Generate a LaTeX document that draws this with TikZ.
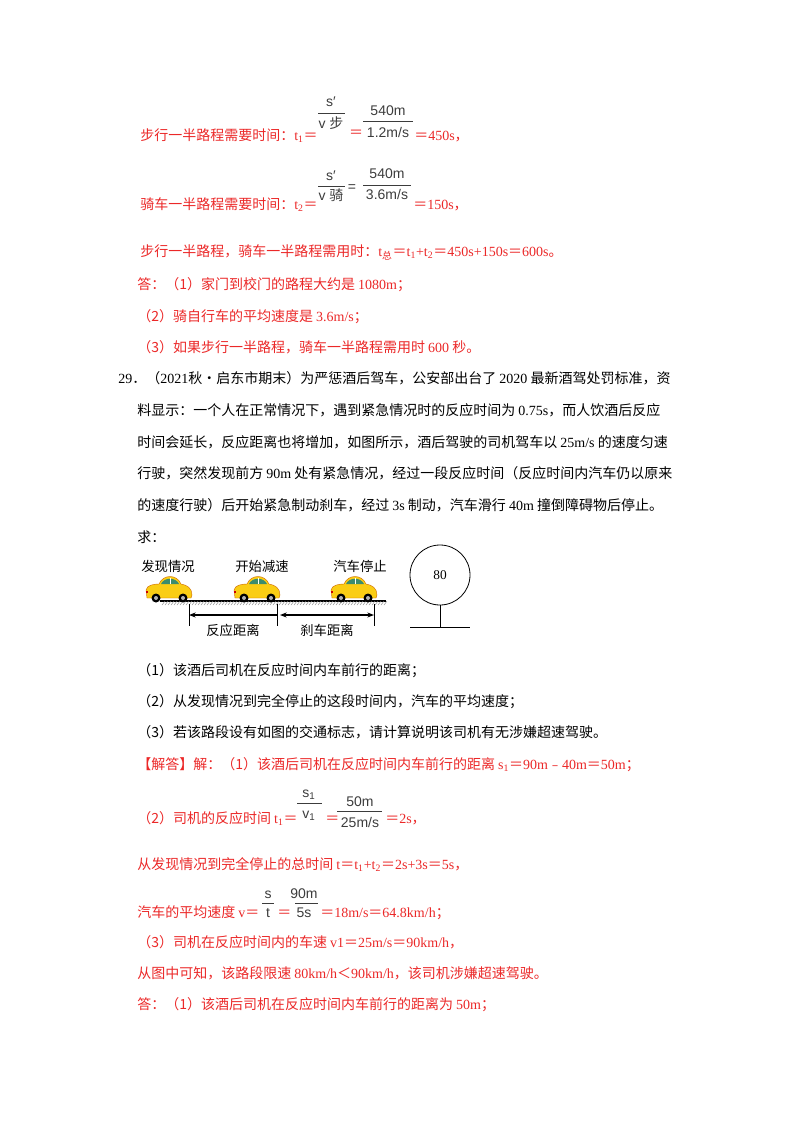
\documentclass[tikz,border=0pt]{standalone}
\usepackage{fontspec}
\setmainfont{Noto Sans CJK SC}
\newfontfamily\en{Liberation Serif}
\newfontfamily\fr{Liberation Sans}
\newfontfamily\cj{Noto Sans CJK SC}
\newcommand{\e}[1]{{\en #1}}
\newcommand{\sub}[1]{\textsubscript{#1}}
\usetikzlibrary{arrows.meta}
\definecolor{ans}{RGB}{235,40,40}
\definecolor{frc}{RGB}{60,60,60}
\definecolor{cary}{RGB}{250,205,20}
\definecolor{carw}{RGB}{60,140,110}
\tikzset{
 t/.style={anchor=base west,inner sep=0pt,font=\fontsize{10.5}{12}\selectfont},
 r/.style={t,text=ans},
 fn/.style={anchor=base,inner sep=0pt,text=frc,font=\fr\fontsize{10.5}{12}\selectfont},
 bar/.style={frc,line width=0.5pt},
 dl/.style={anchor=base,inner sep=0pt,font=\fontsize{10}{12}\selectfont},
 car/.pic={
  \fill[cary,draw=orange!80!black,line width=0.3pt] (-22,0) -- (-23,-8) .. controls (-22,-13) and (-15,-14) .. (-10,-14) .. controls (-6,-24) and (8,-24) .. (12,-14) .. controls (18,-13) and (23,-10) .. (23,-3) -- (22,0) -- cycle;
  \fill[carw] (-8,-14) .. controls (-5,-21) and (7,-21) .. (10,-14) -- cycle;
  \draw[white,line width=0.5pt] (1,-20) -- (1,-14);
  \fill[black] (-13,0) circle (4.5) (14,0) circle (4.5);
  \fill[gray!60] (-13,0) circle (2) (14,0) circle (2);
  \fill[red!80!black] (-23,-7) rectangle (-21,-5);
 }
}
\begin{document}
\begin{tikzpicture}[x=0.75pt,y=-0.75pt]
\useasboundingbox (0,0) rectangle (800,1132);
% line 1
\node[r] (l1) at (140,140) {步行一半路程需要时间：\e{t\sub{1}}＝};
\node[fn] (n1) at (331,106) {s′};
\draw[bar] (318,113) -- (345,113);
\node[fn] (d1) at (331,128) {v {\cj 步}};
\node[fn,text=ans] (eq1) at (356,137) {{\cj ＝}};
\node[fn] (n2) at (388,115) {540m};
\draw[bar] (363,121) -- (413,121);
\node[fn] (d2) at (388,137) {1.2m/s};
\node[r] (e1) at (414,140) {＝\e{450s}，};
% line 2
\node[r] (l2) at (140,209) {骑车一半路程需要时间：\e{t\sub{2}}＝};
\node[fn] (n3) at (331,180) {s′};
\draw[bar] (318,186) -- (345,186);
\node[fn] (d3) at (331,200) {v {\cj 骑}};
\node[fn] (eq2) at (352,191) {=};
\node[fn] (n4) at (387,178) {540m};
\draw[bar] (363,185) -- (411,185);
\node[fn] (d4) at (387,199) {3.6m/s};
\node[r] (e2) at (413,209) {＝\e{150s}，};
% answers
\node[r] (l3) at (140,256) {步行一半路程，骑车一半路程需用时：\e{t\sub{\cj 总}}＝\e{t\sub{1}+t\sub{2}}＝\e{450s+150s}＝\e{600s}。};
\node[r] (l4) at (137,289) {答：（1）家门到校门的路程大约是 \e{1080m}；};
\node[r] (l5) at (137,321) {（2）骑自行车的平均速度是 \e{3.6m/s}；};
\node[r] (l6) at (137,352) {（3）如果步行一半路程，骑车一半路程需用时 \e{600} 秒。};
% problem
\node[t] (p1) at (118,383) {\e{29}．（\e{2021}秋•启东市期末）为严惩酒后驾车，公安部出台了 \e{2020} 最新酒驾处罚标准，资};
\node[t] (p2) at (137,415) {料显示：一个人在正常情况下，遇到紧急情况时的反应时间为 \e{0.75s}，而人饮酒后反应};
\node[t] (p3) at (137,447) {时间会延长，反应距离也将增加，如图所示，酒后驾驶的司机驾车以 \e{25m/s} 的速度匀速};
\node[t] (p4) at (137,478) {行驶，突然发现前方 \e{90m} 处有紧急情况，经过一段反应时间（反应时间内汽车仍以原来};
\node[t] (p5) at (137,510) {的速度行驶）后开始紧急制动刹车，经过 \e{3s} 制动，汽车滑行 \e{40m} 撞倒障碍物后停止。};
\node[t] (p6) at (137,542) {求：};
% diagram
\node[dl] (c1l) at (168,571) {发现情况};
\node[dl] (c2l) at (262,571) {开始减速};
\node[dl] (c3l) at (360,571) {汽车停止};
\draw[line width=0.8pt] (160,601) -- (386,601);
\foreach \x in {162,165,...,384} \draw[line width=0.3pt,gray] (\x,605) -- (\x+3,601);
\pic at (169,598) {car};
\pic at (257,598) {car};
\pic at (354,598) {car};
\coordinate (a1) at (189,604); \coordinate (a2) at (277,604); \coordinate (a3) at (374,604);
\draw[line width=0.6pt] (a1) -- ++(0,22) (a2) -- ++(0,22) (a3) -- ++(0,22);
\draw[line width=0.8pt,{Stealth[length=5pt]}-] ([shift={(0,11)}]a1) -- ([shift={(0,11)}]a2);
\draw[line width=0.8pt,{Stealth[length=5pt]}-{Stealth[length=5pt]}] ([shift={(3,11)}]a2) -- ([shift={(0,11)}]a3);
\node[dl] (rl) at (233,635) {反应距离};
\node[dl] (bl) at (327,635) {刹车距离};
\node[draw,circle,minimum size=45pt,inner sep=0pt,line width=0.6pt,font=\en\fontsize{10}{12}\selectfont] (sign) at (440,575) {80};
\coordinate (base) at (440,627);
\draw[line width=0.6pt] (sign.south) -- (base);
\draw[line width=0.6pt] (410,627) -- (470,627);
% questions
\node[t] (q1) at (137,675) {（1）该酒后司机在反应时间内车前行的距离；};
\node[t] (q2) at (137,706) {（2）从发现情况到完全停止的这段时间内，汽车的平均速度；};
\node[t] (q3) at (137,737) {（3）若该路段设有如图的交通标志，请计算说明该司机有无涉嫌超速驾驶。};
% solution
\node[r] (s1) at (137,769) {【解答】解：（1）该酒后司机在反应时间内车前行的距离 \e{s\sub{1}}＝\e{90m}﹣\e{40m}＝\e{50m}；};
\node[r] (s2) at (137,823) {（2）司机的反应时间 \e{t\sub{1}}＝};
\node[fn] (n5) at (309,797) {s\sub{1}};
\draw[bar] (297,803) -- (322,803);
\node[fn] (d5) at (309,818) {v\sub{1}};
\node[r] (e5) at (325,823) {＝};
\node[fn] (n6) at (360,806) {50m};
\draw[bar] (337,811) -- (382,811);
\node[fn] (d6) at (360,827) {25m/s};
\node[r] (e6) at (385,823) {＝\e{2s}，};
\node[r] (s3) at (137,869) {从发现情况到完全停止的总时间 \e{t}＝\e{t\sub{1}+t\sub{2}}＝\e{2s+3s}＝\e{5s}，};
\node[r] (s4) at (137,917) {汽车的平均速度 \e{v}＝};
\node[fn] (n7) at (268,898) {s};
\draw[bar] (262,903) -- (274,903);
\node[fn] (d7) at (268,917) {t};
\node[r] (e7a) at (277,917) {＝};
\node[fn] (n8) at (304,898) {90m};
\draw[bar] (295,903) -- (318,903);
\node[fn] (d8) at (304,917) {5s};
\node[r] (e8) at (320,917) {＝\e{18m/s}＝\e{64.8km/h}；};
\node[r] (s5) at (137,947) {（3）司机在反应时间内的车速 \e{v1}＝\e{25m/s}＝\e{90km/h}，};
\node[r] (s6) at (137,978) {从图中可知，该路段限速 \e{80km/h}＜\e{90km/h}，该司机涉嫌超速驾驶。};
\node[r] (s7) at (137,1009) {答：（1）该酒后司机在反应时间内车前行的距离为 \e{50m}；};
\end{tikzpicture}
\end{document}
